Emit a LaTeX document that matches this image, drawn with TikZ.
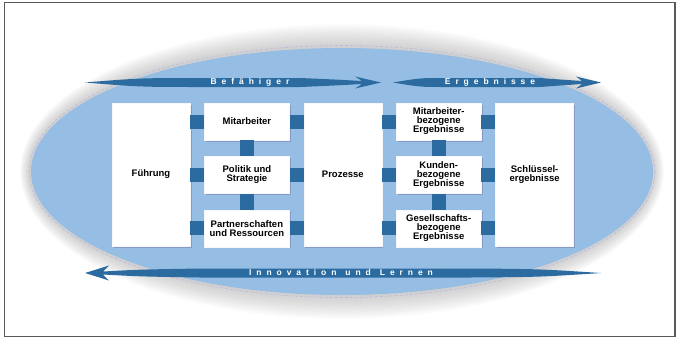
\documentclass[tikz,border=0pt]{standalone}
\usepackage{fontspec}
\setmainfont{Liberation Sans}
\newfontfamily\bandfont[LetterSpace=58]{Liberation Sans}
\usepackage{tikz}
\usetikzlibrary{positioning,shadows}

\definecolor{efqmsky}{RGB}{150,190,228}
\definecolor{efqmblue}{RGB}{43,107,159}
\definecolor{efqmrim}{RGB}{185,185,225}
\definecolor{efqmshade}{RGB}{120,125,175}

\begin{document}
\begin{tikzpicture}[
  x=1pt, y=-1pt,
  node distance=16pt and 14pt,
  box/.style={fill=white, draw=white!90!efqmsky, inner sep=1pt, align=center,
    font=\fontsize{9.5}{9}\selectfont\bfseries,
    drop shadow={shadow xshift=1.5pt, shadow yshift=-1.5pt, fill=efqmshade, opacity=0.55}},
  tallbox/.style={box, minimum width=78pt, minimum height=143pt},
  smallbox/.style={box, minimum width=85pt, minimum height=37pt},
  link/.style={draw=efqmblue, line width=14pt},
  band/.style={fill=efqmblue},
  bandtext/.style={text=white, inner sep=0pt, font=\bandfont\fontsize{8.5}{8.5}\selectfont\bfseries},
]
\useasboundingbox (0,0) rectangle (676,338);
\draw[line width=1.2pt, black!65] (4.5,2.5) rectangle (675,336.5);

% soft rim round the ellipse
\foreach \d in {1,...,20}
  \fill[gray, opacity=0.022] (342,171.5) ellipse [x radius=311+0.55*\d, y radius=123.5+1.2*\d];
\draw[efqmrim, densely dashed, line width=0.6pt] (342,171.5) ellipse [x radius=313, y radius=126];
\fill[efqmsky] (342,171.5) ellipse [x radius=311, y radius=123.5];

% band arrows
\fill[band] (85,82.5) .. controls (140,78) .. (205,78) -- (300,78) .. controls (335,79.5) .. (362,81)
  -- (355,76.5) -- (381,82.5) -- (355,88.5) -- (362,84) .. controls (335,85.5) .. (300,87)
  -- (205,87) .. controls (140,87) .. (85,82.5) -- cycle;
\fill[band] (393,82.5) .. controls (420,78) .. (445,78) -- (540,78) .. controls (560,79.5) .. (582,81)
  -- (576,76.5) -- (601,82.5) -- (576,88.5) -- (582,84) .. controls (560,85.5) .. (540,87)
  -- (445,87) .. controls (420,87) .. (393,82.5) -- cycle;
\fill[band] (85,273) -- (109,265.5) -- (103,271.5) .. controls (140,269.5) .. (200,268.5)
  -- (470,268.5) .. controls (540,269) .. (601,273) .. controls (540,277) .. (470,277.5)
  -- (200,277.5) .. controls (140,276.5) .. (103,274.5) -- (109,280.5) -- cycle;

\node[bandtext] (enablers) at (250,82.5) {Befähiger};
\node[bandtext] (results) at (490,82.5) {Ergebnisse};
\node[bandtext] (innovation) at (341,272.8) {Innovation\hspace*{9pt}und\hspace*{9pt}Lernen};

% boxes
\node[tallbox] (fuehrung) at (151,174.5) {Führung};
\node[smallbox, right=of fuehrung.north east, anchor=north west] (mitarbeiter) {Mitarbeiter};
\node[smallbox, below=of mitarbeiter] (politik) {Politik und\\Strategie};
\node[smallbox, below=of politik] (partner) {Partnerschaften\\und Ressourcen};
\node[tallbox, right=of mitarbeiter.north east, anchor=north west] (prozesse) {Prozesse};
\node[smallbox, right=of prozesse.north east, anchor=north west] (ergmit) {Mitarbeiter-\\bezogene\\Ergebnisse};
\node[smallbox, below=of ergmit] (ergkunden) {Kunden-\\bezogene\\Ergebnisse};
\node[smallbox, below=of ergkunden] (ergges) {Gesellschafts-\\bezogene\\Ergebnisse};
\node[tallbox, right=of ergmit.north east, anchor=north west] (schluessel) {Schlüssel-\\ergebnisse};

% connectors
\foreach \a/\b in {fuehrung/mitarbeiter, fuehrung/politik, fuehrung/partner,
                   prozesse/ergmit, prozesse/ergkunden, prozesse/ergges}
  \draw[link] (\a.east |- \b.west) -- (\b.west);
\foreach \a/\b in {mitarbeiter/prozesse, politik/prozesse, partner/prozesse,
                   ergmit/schluessel, ergkunden/schluessel, ergges/schluessel}
  \draw[link] (\a.east) -- (\b.west |- \a.east);
\foreach \a/\b in {mitarbeiter/politik, politik/partner, ergmit/ergkunden, ergkunden/ergges}
  \draw[link] (\a.south) -- (\b.north);
\end{tikzpicture}
\end{document}
